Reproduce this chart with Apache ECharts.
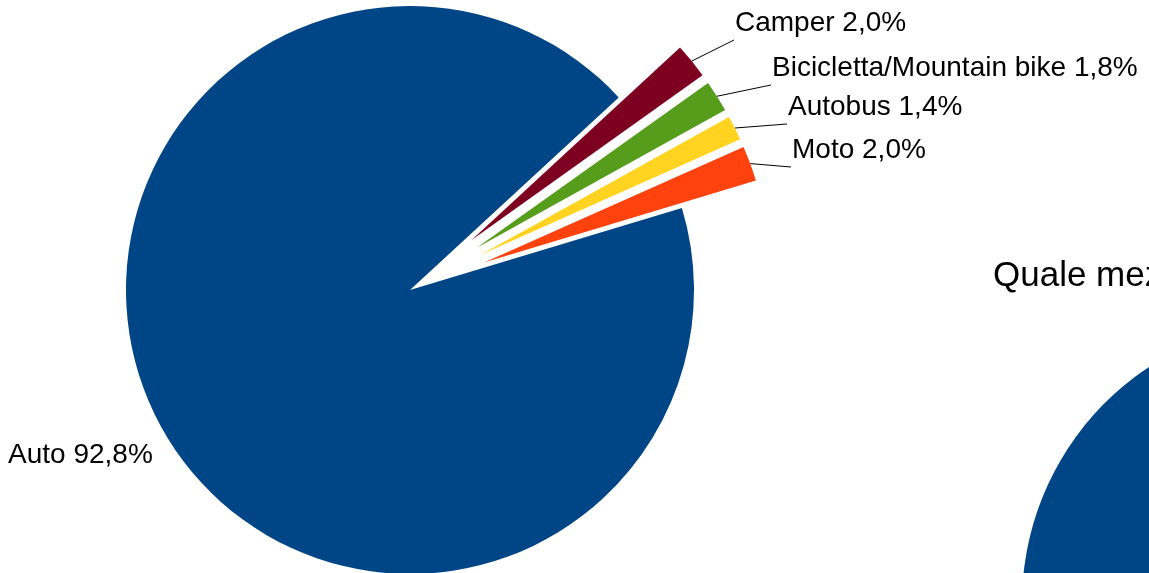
<!DOCTYPE html>
<html>
<head>
<meta charset="utf-8">
<title>Auto</title>
<script src="https://cdn.jsdelivr.net/npm/echarts@6/dist/echarts.min.js"></script>
<style>
  html, body { margin: 0; padding: 0; background: #fff; }
  #chart { width: 1149px; height: 573px; }
</style>
</head>
<body>
<div id="chart"></div>
<script>
// categories, in the order the slices are drawn (LibreOffice palette order)
var categories = ['Auto', 'Moto', 'Autobus', 'Bicicletta/Mountain bike', 'Camper'];
var percents = [92.8, 2.0, 1.4, 1.8, 2.0];
var colors = ['#004586', '#ff420e', '#ffd320', '#579d1c', '#7e0021'];

// layout
var pieCenter = [410, 290];
var pieRadius = 284;
var startAngle = 42.7;
var explode = 79;           // offset of the small (exploded) slices
var labelAnchors = [[8, 455], [792, 150], [788, 107], [772, 68], [735, 23]];

var myChart = echarts.init(document.getElementById('chart'), null, { renderer: 'canvas' });

function fmt(v) {
    return v.toFixed(1).replace('.', ',') + '%';
}

var total = percents.reduce(function (a, b) { return a + b; }, 0);

// mid angle of each slice (counter-clockwise from startAngle)
function midAngle(idx) {
    var acc = 0;
    for (var i = 0; i < idx; i++) acc += percents[i];
    return startAngle + (acc + percents[idx] / 2) / total * 360;
}

var labelFont = {
    fontFamily: 'Liberation Sans',
    fontSize: 28,
    color: '#000'
};

// one series per slice, so the small ones can be pulled out
var series = categories.map(function (name, k) {
    var center = pieCenter.slice();
    if (k !== 0) {
        var a = midAngle(k) * Math.PI / 180;
        center = [pieCenter[0] + explode * Math.cos(a), pieCenter[1] - explode * Math.sin(a)];
    }
    return {
        type: 'pie',
        center: center,
        radius: pieRadius,
        startAngle: startAngle,
        clockwise: false,
        avoidLabelOverlap: false,
        emphasis: { disabled: true },
        label: echarts.util.extend({
            show: true,
            position: 'outside',
            overflow: 'none',
            formatter: function (p) {
                return p.name + ' ' + fmt(p.value);
            }
        }, labelFont),
        labelLine: {
            show: k !== 0,
            lineStyle: { color: '#000', width: 1 }
        },
        labelLayout: function (params) {
            if (params.dataIndex !== k) return;
            var pos = labelAnchors[k];
            var out = { x: pos[0], y: pos[1], align: 'left', verticalAlign: 'middle' };
            if (params.labelLinePoints) {
                var p0 = params.labelLinePoints[0];
                var end = [pos[0] - 1, pos[1] + 17];
                out.labelLinePoints = [p0, end, end];
            }
            return out;
        },
        data: categories.map(function (c, i) {
            var item = { name: c, value: percents[i] };
            if (i !== k) {
                item.itemStyle = { color: 'rgba(0,0,0,0)' };
                item.label = { show: false };
                item.labelLine = { show: false };
            } else {
                item.itemStyle = { color: colors[i] };
            }
            return item;
        })
    };
});

// second chart, mostly out of view
series.push({
    type: 'pie',
    center: [1305, 603],
    radius: 283,
    startAngle: startAngle,
    clockwise: false,
    silent: true,
    label: { show: false },
    labelLine: { show: false },
    color: colors,
    data: categories.map(function (c, i) {
        return { name: c, value: percents[i] };
    })
});

var option = {
    animation: false,
    title: {
        text: 'Quale mezzo di trasporto utilizzi?',
        left: 988,
        top: 254,
        textStyle: {
            fontFamily: 'Liberation Sans',
            fontSize: 35,
            fontWeight: 'normal',
            color: '#000'
        }
    },
    series: series
};

myChart.setOption(option);
</script>
</body>
</html>
